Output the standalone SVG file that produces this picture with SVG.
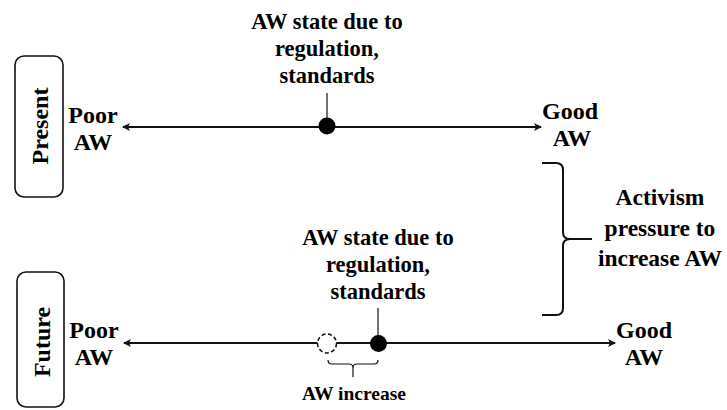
<svg xmlns="http://www.w3.org/2000/svg" width="727" height="410" viewBox="0 0 727 410" font-family="'Liberation Serif', 'DejaVu Serif', serif" font-weight="bold">
<style>
text{font-family:'Liberation Serif','DejaVu Serif',serif;font-weight:700;fill:#000;text-anchor:middle}
.t22{font-size:22.5px}
.t24{font-size:24px}
.t23{font-size:23.5px}
.t19{font-size:19.5px}
.box{fill:#fff;stroke:#111;stroke-width:1.6}
.axis{stroke:#111;stroke-width:2;fill:none}
.thin{stroke:#111;stroke-width:1.2;fill:none}
</style>
<defs>
<marker id="ah" viewBox="0 0 8 8" refX="7" refY="4" markerWidth="4" markerHeight="4" orient="auto-start-reverse" markerUnits="strokeWidth">
<path d="M0,0 L8,4 L0,8 L2,4 Z" fill="#111"/>
</marker>
</defs>
<rect width="727" height="410" fill="#fff"/>
<g id="present">
<rect class="box" x="15" y="56" width="48" height="141" rx="9"/>
<text class="t24" transform="translate(48,126) rotate(-90)">Present</text>
</g>
<g id="future">
<rect class="box" x="17" y="272" width="47" height="135" rx="9"/>
<text class="t24" transform="translate(50,342) rotate(-90)">Future</text>
</g>
<g id="connectors">
<line class="axis" x1="123" y1="127" x2="541" y2="127" marker-start="url(#ah)" marker-end="url(#ah)"/>
<line class="thin" x1="327" y1="93" x2="327" y2="127"/>
<line class="axis" x1="124" y1="343" x2="615" y2="343" marker-start="url(#ah)" marker-end="url(#ah)"/>
<line class="thin" x1="378" y1="308" x2="378" y2="343"/>
<path class="thin" d="M328,360 Q328,364 332,364 L349,364 Q353,364 353,368 L353,377 M353,368 Q353,364 357,364 L374,364 Q378,364 378,360"/>
<path d="M542,163 L556,163 Q563,163 563,170 L563,232 Q563,239 570,239 L592,239 M570,239 Q563,239 563,246 L563,308 Q563,315 556,315 L542,315" fill="none" stroke="#111" stroke-width="2"/>
</g>
<g id="present-poor"><text class="t24" x="93" y="123">Poor</text><text class="t24" x="93" y="150">AW</text></g>
<g id="present-good"><text class="t24" x="570" y="119">Good</text><text class="t24" x="572" y="146">AW</text></g>
<g id="present-state">
<text class="t22" x="327" y="29">AW state due to</text>
<text class="t22" x="327" y="56">regulation,</text>
<text class="t22" x="327" y="83">standards</text>
<circle cx="327" cy="126" r="8.5" fill="#000"/>
</g>
<g id="future-poor"><text class="t24" x="94" y="338">Poor</text><text class="t24" x="94" y="365">AW</text></g>
<g id="future-good"><text class="t24" x="644" y="338">Good</text><text class="t24" x="644" y="365">AW</text></g>
<g id="future-state">
<text class="t22" x="378" y="245">AW state due to</text>
<text class="t22" x="378" y="272">regulation,</text>
<text class="t22" x="378" y="299">standards</text>
<circle cx="378.5" cy="343.5" r="8.5" fill="#000"/>
</g>
<g id="old-state">
<circle cx="327" cy="343.5" r="9.5" fill="#fff" stroke="#111" stroke-width="1.5" stroke-dasharray="4,2.5"/>
</g>
<g id="aw-increase"><text class="t19" x="354" y="400">AW increase</text></g>
<g id="activism">
<text class="t23" x="660" y="205">Activism</text>
<text class="t23" x="660" y="236">pressure to</text>
<text class="t23" x="660" y="266">increase AW</text>
</g>
</svg>
